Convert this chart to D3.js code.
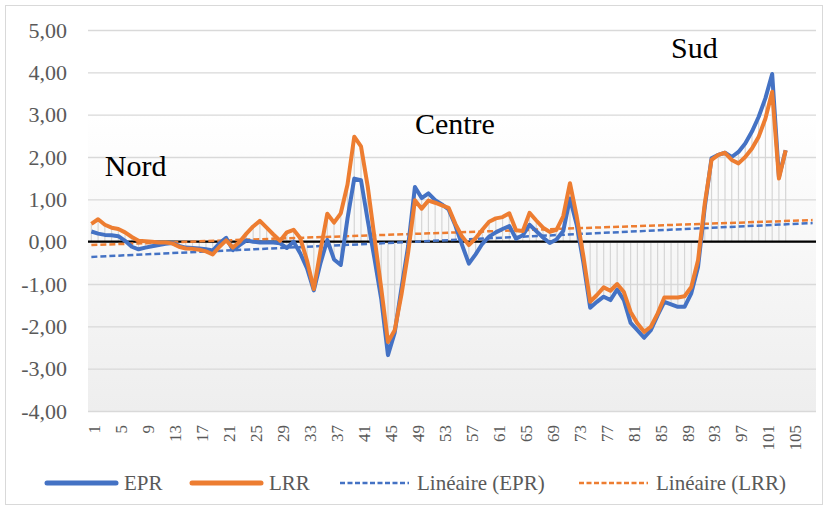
<!DOCTYPE html>
<html>
<head>
<meta charset="utf-8">
<script src="https://cdn.jsdelivr.net/npm/d3@7"></script>
<style>
  body { margin: 0; background: #fff; }
  svg text { font-family: "Liberation Serif", "Times New Roman", Tinos, "DejaVu Serif", "Noto Serif", serif; }
</style>
</head>
<body>
<svg id="chart" width="829" height="510"></svg>
<script>
// categories 1..108 (the last ones carry no data, only the trend lines)
const categories = d3.range(1, 109);
const tickLabels = [1, 5, 9, 13, 17, 21, 25, 29, 33, 37, 41, 45, 49, 53, 57, 61, 65, 69, 73, 77, 81, 85, 89, 93, 97, 101, 105];
const yTicks = [-4, -3, -2, -1, 0, 1, 2, 3, 4, 5];

const epr = [0.24, 0.19, 0.16, 0.15, 0.13, 0.02, -0.12, -0.18, -0.14, -0.11,
  -0.08, -0.05, -0.03, -0.10, -0.14, -0.15, -0.16, -0.18, -0.21, -0.04,
  0.09, -0.20, -0.08, 0.03, 0.00, -0.02, -0.02, -0.02, -0.04, -0.15,
  0.00, -0.28, -0.63, -1.15, -0.50, 0.04, -0.42, -0.55, 0.55, 1.49,
  1.45, 0.50, -0.40, -1.35, -2.68, -2.15, -1.10, -0.10, 1.29, 1.03,
  1.14, 0.98, 0.88, 0.76, 0.38, -0.08, -0.52, -0.30, -0.05, 0.12,
  0.22, 0.30, 0.37, 0.07, 0.15, 0.40, 0.25, 0.10, -0.03, 0.05,
  0.25, 1.02, 0.40, -0.50, -1.56, -1.42, -1.30, -1.38, -1.13, -1.38,
  -1.92, -2.09, -2.27, -2.09, -1.74, -1.42, -1.48, -1.54, -1.54, -1.22,
  -0.60, 0.82, 1.97, 2.05, 2.10, 2.00, 2.12, 2.32, 2.60, 2.95,
  3.39, 3.96, 1.53, 2.16];

const lrr = [0.42, 0.53, 0.40, 0.33, 0.30, 0.22, 0.11, 0.02, 0.01, 0.00,
  -0.02, -0.02, -0.04, -0.12, -0.16, -0.17, -0.19, -0.23, -0.30, -0.12,
  0.03, -0.14, 0.00, 0.19, 0.36, 0.49, 0.33, 0.17, 0.02, 0.22,
  0.28, 0.08, -0.45, -1.12, -0.20, 0.66, 0.45, 0.67, 1.35, 2.48,
  2.25, 1.30, 0.10, -1.10, -2.37, -2.09, -1.25, -0.25, 0.98, 0.78,
  0.97, 0.92, 0.86, 0.80, 0.42, 0.12, -0.08, 0.08, 0.28, 0.47,
  0.55, 0.58, 0.67, 0.27, 0.25, 0.68, 0.50, 0.33, 0.23, 0.28,
  0.60, 1.38, 0.60, -0.35, -1.42, -1.26, -1.08, -1.16, -1.00, -1.19,
  -1.66, -1.93, -2.13, -2.01, -1.70, -1.32, -1.32, -1.32, -1.29, -1.07,
  -0.44, 0.90, 1.93, 2.05, 2.10, 1.93, 1.85, 2.00, 2.20, 2.48,
  2.91, 3.54, 1.49, 2.16];

// linear trend lines read at the first and last category
const trendEpr = [{ k: 1, v: -0.36 }, { k: 108, v: 0.44 }];
const trendLrr = [{ k: 1, v: -0.08 }, { k: 108, v: 0.51 }];

const zones = [
  { name: "Nord", k: 3, v: 1.55 },
  { name: "Centre", k: 49, v: 2.55 },
  { name: "Sud", k: 87, v: 4.33 }
];

const blue = "#4472C4", orange = "#ED7D31";

const svg = d3.select("#chart");
const plotLeft = 88, plotRight = 816, plotTop = 30, plotBottom = 411;

const x = d3.scaleBand().domain(categories).range([plotLeft, plotRight]).padding(0);
const cx = k => x(k) + x.bandwidth() / 2;
const y = d3.scaleLinear().domain([-4, 5]).range([plotBottom, plotTop]);

// chart border
svg.append("rect")
  .attr("x", 5.5).attr("y", 5.5).attr("width", 817).attr("height", 499)
  .attr("fill", "#fff").attr("stroke", "#d9d9d9").attr("stroke-width", 1);

// plot area gradient
const grad = svg.append("defs").append("linearGradient")
  .attr("id", "bg").attr("x1", 0).attr("y1", 0).attr("x2", 0).attr("y2", 1);
grad.append("stop").attr("offset", "0%").attr("stop-color", "#ffffff");
grad.append("stop").attr("offset", "22%").attr("stop-color", "#ffffff");
grad.append("stop").attr("offset", "100%").attr("stop-color", "#eeeeee");
svg.append("rect")
  .attr("x", plotLeft).attr("y", plotTop)
  .attr("width", plotRight - plotLeft).attr("height", plotBottom - plotTop)
  .attr("fill", "url(#bg)");

// gridlines
svg.append("g")
  .attr("transform", `translate(${plotLeft},0)`)
  .call(d3.axisLeft(y).tickValues(yTicks).tickSize(-(plotRight - plotLeft)).tickFormat(""))
  .call(g => g.select(".domain").remove())
  .call(g => g.selectAll("line").attr("stroke", "#d9d9d9").attr("stroke-width", 1.3));

// y labels
svg.append("g")
  .attr("transform", `translate(${plotLeft},0)`)
  .call(d3.axisLeft(y).tickValues(yTicks).tickSize(0).tickPadding(21)
    .tickFormat(d => d.toFixed(2).replace(".", ",")))
  .call(g => g.select(".domain").remove())
  .call(g => g.attr("font-family", null))
  .call(g => g.selectAll("text")
    .attr("fill", "#595959")
    .style("font-size", "22px"));

// x labels (rotated)
svg.append("g")
  .selectAll("text")
  .data(tickLabels)
  .join("text")
  .attr("transform", d => `translate(${cx(d) + 3},425) rotate(-90)`)
  .attr("text-anchor", "end")
  .attr("dy", "0.35em")
  .attr("fill", "#595959")
  .style("font-size", "17px")
  .text(d => d);

// high-low lines between the series and zero
const rows = epr.map((v, i) => ({ k: i + 1, a: v, b: lrr[i] }));
svg.append("g")
  .selectAll("line")
  .data(rows)
  .join("line")
  .attr("x1", d => cx(d.k)).attr("x2", d => cx(d.k))
  .attr("y1", d => y(Math.max(0, d.a, d.b)))
  .attr("y2", d => y(Math.min(0, d.a, d.b)))
  .attr("stroke", "#d6d6d6")
  .attr("stroke-width", 1.2);

// zero line
svg.append("line")
  .attr("x1", plotLeft).attr("x2", plotRight)
  .attr("y1", y(0)).attr("y2", y(0))
  .attr("stroke", "#000").attr("stroke-width", 2.2);

// trend lines
const trendLine = d3.line().x(d => cx(d.k)).y(d => y(d.v));
[[trendEpr, blue], [trendLrr, orange]].forEach(([data, color]) => {
  svg.append("path")
    .attr("d", trendLine(data))
    .attr("fill", "none")
    .attr("stroke", color)
    .attr("stroke-width", 2.5)
    .attr("stroke-dasharray", "6,3");
});

// series
const line = d3.line().x((d, i) => cx(i + 1)).y(d => y(d));
[[epr, blue], [lrr, orange]].forEach(([data, color]) => {
  svg.append("path")
    .attr("d", line(data))
    .attr("fill", "none")
    .attr("stroke", color)
    .attr("stroke-width", 4)
    .attr("stroke-linejoin", "round");
});

// zone labels
svg.append("g")
  .selectAll("text")
  .data(zones)
  .join("text")
  .attr("x", d => cx(d.k))
  .attr("y", d => y(d.v))
  .attr("fill", "#000")
  .style("font-size", "30px")
  .text(d => d.name);

// legend
const legendItems = [
  { label: "EPR", color: blue, dash: null, x: 47 },
  { label: "LRR", color: orange, dash: null, x: 192 },
  { label: "Linéaire (EPR)", color: blue, dash: "5,2.5", x: 340 },
  { label: "Linéaire (LRR)", color: orange, dash: "5,2.5", x: 579 }
];
const legend = svg.append("g").attr("transform", "translate(0,483)");
const item = legend.selectAll("g")
  .data(legendItems)
  .join("g")
  .attr("transform", d => `translate(${d.x},0)`);
item.append("line")
  .attr("x1", 0).attr("x2", 69)
  .attr("stroke", d => d.color)
  .attr("stroke-width", d => d.dash ? 2.5 : 5)
  .attr("stroke-linecap", d => d.dash ? "butt" : "round")
  .attr("stroke-dasharray", d => d.dash);
item.append("text")
  .attr("x", 77)
  .attr("dy", "0.35em")
  .attr("fill", "#595959")
  .style("font-size", "21px")
  .text(d => d.label);
</script>
</body>
</html>
